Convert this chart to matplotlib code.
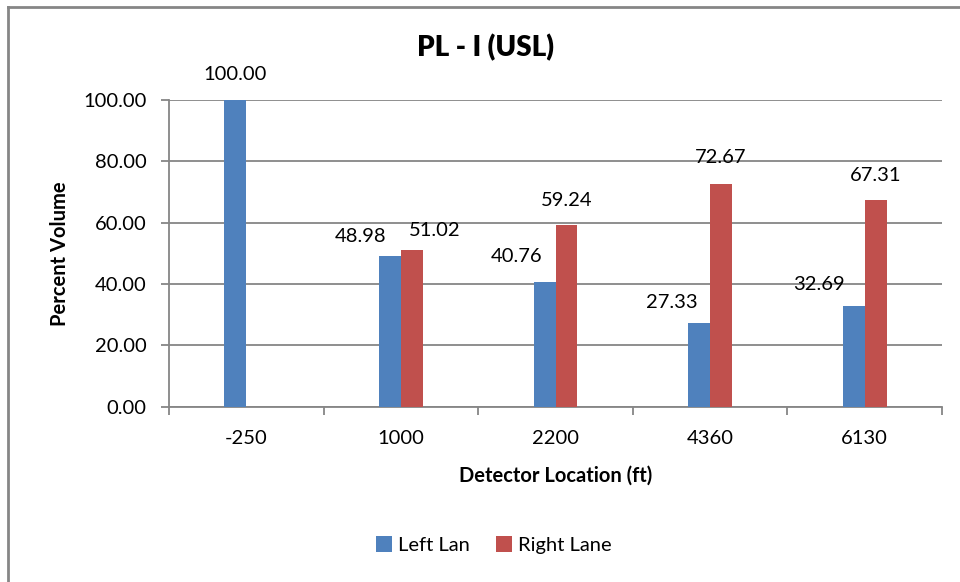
import matplotlib
matplotlib.use("Agg")
import matplotlib.pyplot as plt
import numpy as np
from matplotlib.patches import Patch
from matplotlib.lines import Line2D

# ---- data ----
categories = ["-250", "1000", "2200", "4360", "6130"]
left_lane = [100.00, 48.98, 40.76, 27.33, 32.69]
right_lane = [None, 51.02, 59.24, 72.67, 67.31]
series_names = ["Left Lan", "Right Lane"]
yticks = [0, 20, 40, 60, 80, 100]

# label offsets in pixels (dx, dy) from bar top centre
left_offsets = [(0, 25), (-29, 20), (-28, 25), (-27, 20), (-35, 22)]
right_offsets = [None, (23, 20), (0, 25), (0, 26), (0, 25)]

plt.rcParams['font.family'] = ['Lato', 'DejaVu Sans']

BLUE = "#4F81BD"
RED = "#C0504D"
GRID = "#868686"

fig = plt.figure(figsize=(9.6, 5.82), dpi=100)
fig.patch.set_facecolor("white")

# chart area border (left & top visible)
fig.add_artist(Line2D([8/960, 8/960], [0, 1 - 7/582], transform=fig.transFigure,
                      color=GRID, lw=2))
fig.add_artist(Line2D([8/960, 1], [1 - 7/582, 1 - 7/582], transform=fig.transFigure,
                      color=GRID, lw=2))

left_px, right_px, top_px, bot_px = 169, 942, 100, 406.7
ax = fig.add_axes([left_px/960, 1 - bot_px/582, (right_px - left_px)/960,
                   (bot_px - top_px)/582])

x = np.arange(len(categories))
w = 0.142
lv = np.array(left_lane, dtype=float)
rv = np.array([np.nan if v is None else v for v in right_lane], dtype=float)
bl = ax.bar(x - w/2, lv, width=w, color=BLUE, zorder=3)
br = ax.bar(x + w/2, np.nan_to_num(rv), width=w, color=RED, zorder=3)

for i, v in enumerate(left_lane):
    dx, dy = left_offsets[i]
    ax.annotate(f"{v:.2f}", (x[i] - w/2, v), xytext=(dx, dy),
                textcoords="offset pixels", ha="center", va="center",
                fontsize=14.5, color="black")
for i, v in enumerate(right_lane):
    if v is None:
        continue
    dx, dy = right_offsets[i]
    ax.annotate(f"{v:.2f}", (x[i] + w/2, v), xytext=(dx, dy),
                textcoords="offset pixels", ha="center", va="center",
                fontsize=14.5, color="black")

ax.set_xlim(-0.5, len(categories) - 0.5)
ax.set_ylim(0, 100)
ax.set_yticks(yticks)
ax.set_yticklabels([f"{t:.2f}" for t in yticks], fontsize=14.5)
ax.yaxis.grid(True, color=GRID, lw=1.3, zorder=0)
ax.set_axisbelow(True)

ax.set_xticks(x)
ax.set_xticklabels(categories, fontsize=14.5)
ax.set_xticks(np.arange(-0.5, len(categories), 1.0), minor=True)
ax.tick_params(axis="x", which="major", length=0, pad=17)
ax.tick_params(axis="x", which="minor", length=6, width=1.3, color=GRID, direction="out")
ax.tick_params(axis="y", length=6, width=1.3, color=GRID, direction="out", pad=10)

for s in ["top", "right"]:
    ax.spines[s].set_visible(False)
for s in ["left", "bottom"]:
    ax.spines[s].set_color(GRID)
    ax.spines[s].set_linewidth(1.3)

ax.set_ylabel("Percent Volume", fontsize=14.5, fontweight="bold", labelpad=10)
ax.set_xlabel("Detector Location (ft)", fontsize=14.5, fontweight="bold", labelpad=13)

fig.text(485/960, 1 - 48/582, "PL - I (USL)", ha="center", va="center",
         fontsize=20, fontweight="heavy")

handles = [Patch(facecolor=BLUE), Patch(facecolor=RED)]
fig.legend(handles, series_names, loc="center", bbox_to_anchor=(494/960, 1 - 545/582),
           ncol=2, frameon=False, fontsize=14.5, handlelength=0.8, handleheight=0.8,
           handletextpad=0.3, columnspacing=1.3)

fig.savefig("out.png", dpi=100)
